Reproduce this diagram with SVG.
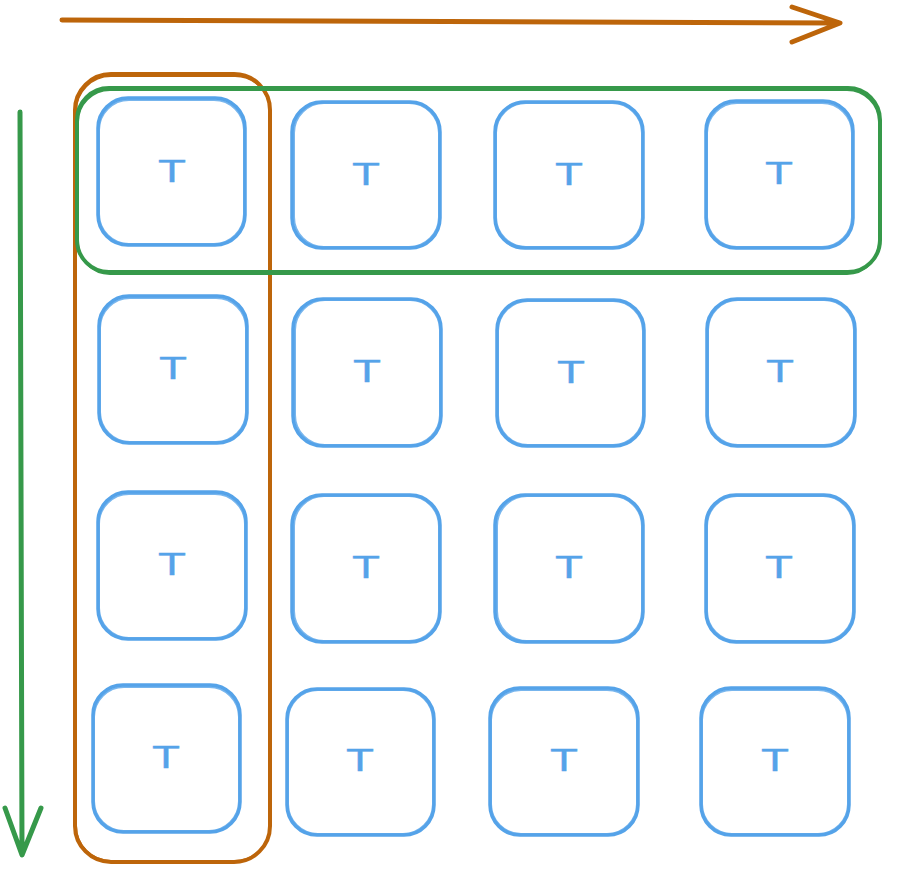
<svg xmlns="http://www.w3.org/2000/svg" width="900" height="883" viewBox="0 0 900 883">
<style>
.n{fill:none;stroke:#55a3e9;stroke-width:3.5;stroke-linecap:round}
.n2{fill:none;stroke:#55a3e9;stroke-width:2;stroke-opacity:0.8}
.t{font-family:"Liberation Sans",Arial,sans-serif;font-size:31px;fill:#55a3e9;stroke:#55a3e9;stroke-width:0.3}
.og{fill:none;stroke:#bd650a;stroke-width:4;stroke-linecap:round;stroke-linejoin:round}
.gg{fill:none;stroke:#36994a;stroke-width:4;stroke-linecap:round;stroke-linejoin:round}
.thin{stroke-width:2}
.arr{stroke-width:5}
</style>
<rect width="900" height="883" fill="#ffffff"/>
<g id="groups">
<g id="orange-group">
<rect class="og" x="75" y="74" width="195" height="788" rx="36"/>
<rect class="og thin" x="76" y="76" width="194" height="785" rx="35"/>
</g>
<g id="green-group">
<rect class="gg" x="77" y="88" width="803" height="184" rx="32"/>
<rect class="gg thin" x="78" y="90" width="801" height="184" rx="32"/>
</g>
</g>
<g id="connectors">
<path class="og arr" d="M62 20 L840 23 M792 7 L840 23 L792 42"/>
<path class="gg arr" d="M20 112 L22 855 M5 808 L22 855 L41 808"/>
</g>
<g id="nodes">
<g id="n11"><rect class="n" x="98" y="98" width="147" height="147" rx="30"/><rect class="n2" x="99" y="100" width="145" height="144" rx="30"/><text class="t" x="158" y="182" textLength="28" lengthAdjust="spacingAndGlyphs">T</text></g>
<g id="n12"><rect class="n" x="292" y="102" width="148" height="146" rx="30"/><rect class="n2" x="294" y="103" width="145" height="144" rx="30"/><text class="t" x="352" y="185" textLength="28" lengthAdjust="spacingAndGlyphs">T</text></g>
<g id="n13"><rect class="n" x="495" y="102" width="148" height="146" rx="30"/><rect class="n2" x="496" y="103" width="146" height="144" rx="30"/><text class="t" x="555" y="185" textLength="28" lengthAdjust="spacingAndGlyphs">T</text></g>
<g id="n14"><rect class="n" x="706" y="101" width="147" height="147" rx="30"/><rect class="n2" x="707" y="103" width="145" height="144" rx="30"/><text class="t" x="765" y="184" textLength="28" lengthAdjust="spacingAndGlyphs">T</text></g>
<g id="n21"><rect class="n" x="99" y="296" width="148" height="147" rx="30"/><rect class="n2" x="100" y="298" width="146" height="144" rx="30"/><text class="t" x="159" y="379" textLength="28" lengthAdjust="spacingAndGlyphs">T</text></g>
<g id="n22"><rect class="n" x="293" y="299" width="148" height="147" rx="30"/><rect class="n2" x="295" y="300" width="145" height="145" rx="30"/><text class="t" x="353" y="382" textLength="28" lengthAdjust="spacingAndGlyphs">T</text></g>
<g id="n23"><rect class="n" x="497" y="300" width="147" height="146" rx="30"/><rect class="n2" x="498" y="301" width="145" height="144" rx="30"/><text class="t" x="557" y="383" textLength="28" lengthAdjust="spacingAndGlyphs">T</text></g>
<g id="n24"><rect class="n" x="707" y="299" width="148" height="147" rx="30"/><rect class="n2" x="708" y="300" width="146" height="145" rx="30"/><text class="t" x="766" y="382" textLength="28" lengthAdjust="spacingAndGlyphs">T</text></g>
<g id="n31"><rect class="n" x="98" y="492" width="148" height="147" rx="30"/><rect class="n2" x="99" y="494" width="146" height="144" rx="30"/><text class="t" x="158" y="575" textLength="28" lengthAdjust="spacingAndGlyphs">T</text></g>
<g id="n32"><rect class="n" x="292" y="495" width="148" height="147" rx="30"/><rect class="n2" x="294" y="496" width="145" height="145" rx="30"/><text class="t" x="352" y="578" textLength="28" lengthAdjust="spacingAndGlyphs">T</text></g>
<g id="n33"><rect class="n" x="495" y="495" width="148" height="147" rx="30"/><rect class="n2" x="497" y="496" width="145" height="145" rx="30"/><text class="t" x="555" y="578" textLength="28" lengthAdjust="spacingAndGlyphs">T</text></g>
<g id="n34"><rect class="n" x="706" y="495" width="148" height="147" rx="30"/><rect class="n2" x="707" y="496" width="146" height="145" rx="30"/><text class="t" x="765" y="578" textLength="28" lengthAdjust="spacingAndGlyphs">T</text></g>
<g id="n41"><rect class="n" x="93" y="685" width="147" height="147" rx="30"/><rect class="n2" x="94" y="687" width="145" height="144" rx="30"/><text class="t" x="152" y="768" textLength="28" lengthAdjust="spacingAndGlyphs">T</text></g>
<g id="n42"><rect class="n" x="287" y="689" width="147" height="146" rx="30"/><rect class="n2" x="288" y="690" width="145" height="144" rx="30"/><text class="t" x="346" y="771" textLength="28" lengthAdjust="spacingAndGlyphs">T</text></g>
<g id="n43"><rect class="n" x="490" y="688" width="148" height="147" rx="30"/><rect class="n2" x="491" y="690" width="146" height="144" rx="30"/><text class="t" x="550" y="771" textLength="28" lengthAdjust="spacingAndGlyphs">T</text></g>
<g id="n44"><rect class="n" x="701" y="688" width="148" height="147" rx="30"/><rect class="n2" x="702" y="690" width="146" height="144" rx="30"/><text class="t" x="761" y="771" textLength="28" lengthAdjust="spacingAndGlyphs">T</text></g>
</g>
</svg>
